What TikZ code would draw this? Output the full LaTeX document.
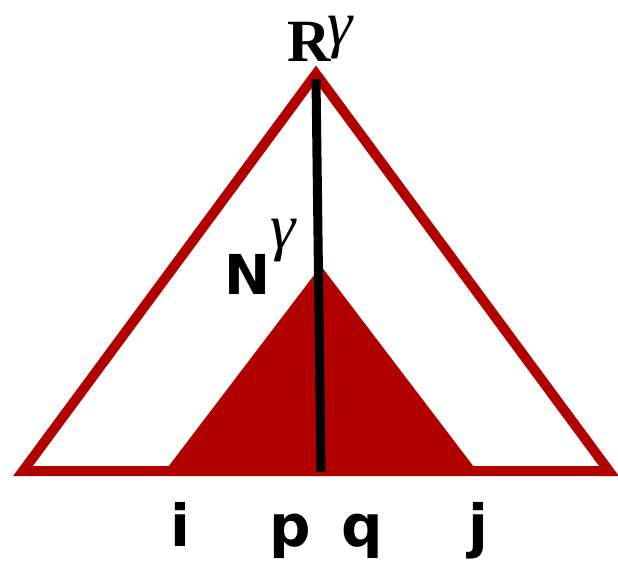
\documentclass[tikz,border=0pt]{standalone}
\usepackage{fontspec}
\newfontfamily\labelfont{DejaVu Sans}
\newfontfamily\greekfont{Liberation Serif}
\definecolor{treered}{RGB}{176,0,0}
\usetikzlibrary{positioning}
\newcommand{\biggam}[1]{\raisebox{#1}{\fontsize{64}{70}\selectfont\greekfont\mdseries\itshape γ}}
\begin{document}
\begin{tikzpicture}[x=1pt, y=1pt, every node/.style={inner sep=0pt},
  outer/.style={draw=treered, line width=10pt, miter limit=10},
  inner/.style={fill=treered},
  spine/.style={draw=black, line width=9pt},
  leaf/.style={font=\fontsize{58}{60}\selectfont\labelfont\bfseries, anchor=base}]
\useasboundingbox (0,0) rectangle (618,560);
% the whole tree
\coordinate (rootR) at (316,486);
\coordinate (left) at (23,89);
\coordinate (right) at (609,89);
% the subtree
\coordinate (rootN) at (321,294);
\coordinate (nleft) at (165,89);
\coordinate (nright) at (477,89);
\fill[inner] (nleft) -- (rootN) -- (nright) -- cycle;
\draw[outer] (left) -- (rootR) -- (right) -- cycle;
\coordinate (top) at (316,481);
\coordinate (bot) at (321,88);
\draw[spine] (top) -- (bot);
% labels
\node[anchor=base west, font=\fontsize{60}{60}\selectfont] (labR) at (287,498) {{\greekfont\bfseries R}\kern-3pt\biggam{16pt}};
\node[anchor=base west, font=\fontsize{55}{60}\selectfont] (labN) at (224,265) {{\labelfont\bfseries N}\kern0pt\biggam{46pt}};
\node[leaf] (i) at (180,14) {i};
\node[leaf] (p) at (290,14) {p};
\node[leaf] (q) at (362,14) {q};
\node[leaf] (j) at (478,14) {j};
\end{tikzpicture}
\end{document}
